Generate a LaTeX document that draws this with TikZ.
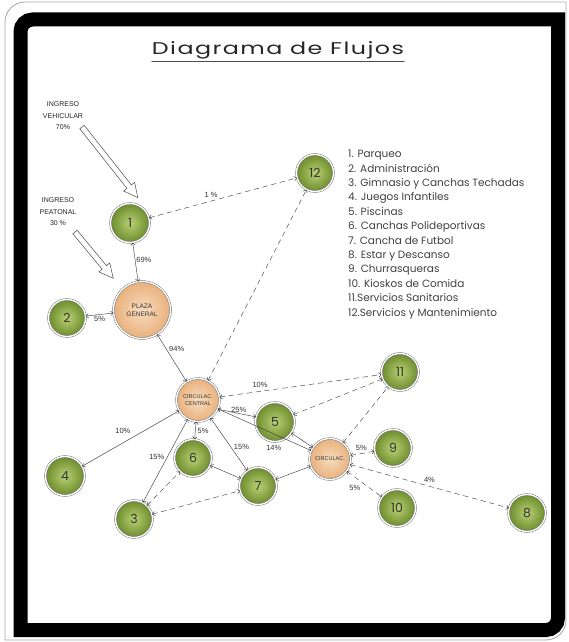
\documentclass[tikz,border=0pt]{standalone}
\usepackage{fontspec}
\setmainfont{Poppins}
\newfontfamily\labelfont{Liberation Sans}
\usetikzlibrary{arrows.meta}
\definecolor{verdeC}{HTML}{B9D074}
\definecolor{verdeO}{HTML}{6C8C2C}
\definecolor{naranjaC}{HTML}{F8DCBE}
\definecolor{naranjaO}{HTML}{E8B07C}

\begin{document}
\begin{tikzpicture}[x=1pt,y=-1pt,>={Straight Barb[length=2.5pt,width=4.5pt]},line cap=round,
  zona/.style={circle,draw=black!60,double=white,double distance=1.4pt,line width=0.45pt,
    inner sep=0pt,minimum size=37pt,inner color=verdeC,outer color=verdeO,
    text=black!80,font=\fontsize{12.5}{12.5}\selectfont},
  acceso/.style={zona,inner color=naranjaC,outer color=naranjaO,
    font=\labelfont\fontsize{5.5}{6.5}\selectfont,align=center},
  flujo/.style={<->,draw=black!75,line width=0.45pt},
  libre/.style={flujo,dash pattern=on 5pt off 4pt},
  pct/.style={font=\labelfont\fontsize{7.5}{8}\selectfont,text=black!80,inner sep=1pt},
  ingreso/.style={font=\labelfont\fontsize{7}{11.5}\selectfont,text=black!85,align=center}]
\useasboundingbox (0,0) rectangle (568,642);
% marco
\draw[gray!70,line width=0.8pt] (5,640) -- (5,22) arc[start angle=180,end angle=270,radius=20]
  -- (566,2) -- (566,620) arc[start angle=0,end angle=90,radius=20] -- cycle;
\draw[line width=14pt] (20.5,630) -- (20.5,31.5) arc[start angle=180,end angle=270,radius=12]
  -- (558,19.5) -- (558,618) arc[start angle=0,end angle=90,radius=12] -- cycle;
% titulo
\node[font=\fontsize{17}{17}\selectfont,text=black!85,inner sep=0pt] (titulo) at (278,50)
  {\scalebox{1.4}[1]{\addfontfeature{LetterSpace=6}Diagrama de Flujos}};
\draw[black!70,line width=0.6pt] ([yshift=-2.5pt]titulo.south west) -- ([yshift=-2.5pt]titulo.south east);
% leyenda
\node[anchor=north west,align=left,inner sep=0pt,text=black!75,
  font=\fontsize{10.5}{14.4}\selectfont] (leyenda) at (348,150) {1. Parqueo\\
2. Administración\\
3. Gimnasio y Canchas Techadas\\
4. Juegos Infantiles\\
5. Piscinas\\
6. Canchas Polideportivas\\
7. Cancha de Futbol\\
8. Estar y Descanso\\
9. Churrasqueras\\
10. Kioskos de Comida\\
11.Servicios Sanitarios\\
12.Servicios y Mantenimiento};
% ingresos
\node[ingreso] (vehicular) at (63,116) {INGRESO\\VEHICULAR\\70\%};
\node[ingreso] (peatonal) at (58,212) {INGRESO\\PEATONAL\\30 \%};
\begin{scope}[shift={(82,127)},rotate=-51.7]
\draw[black!70,line width=0.5pt,fill=white] (0,-2.8) -- (76,-2.8) -- (76,-7) -- (90,0) -- (76,7) -- (76,2.8) -- (0,2.8) -- cycle;
\end{scope}
\begin{scope}[shift={(75,232)},rotate=-50.4]
\draw[black!70,line width=0.5pt,fill=white] (0,-2.8) -- (46,-2.8) -- (46,-7) -- (60,0) -- (46,7) -- (46,2.8) -- (0,2.8) -- cycle;
\end{scope}
% zonas
\node[zona,minimum size=39pt] (n1) at (130,223) {1};
\node[zona] (n2) at (67,318) {2};
\node[zona] (n3) at (134,519) {3};
\node[zona,minimum size=39pt] (n4) at (65,476) {4};
\node[zona,minimum size=39pt] (n5) at (275,422) {5};
\node[zona] (n6) at (193,458) {6};
\node[zona] (n7) at (258,486) {7};
\node[zona] (n8) at (527,513) {8};
\node[zona] (n9) at (393,448) {9};
\node[zona] (n10) at (397,508) {10};
\node[zona] (n11) at (400,372) {11};
\node[zona] (n12) at (315,173) {12};
\node[acceso,minimum size=57pt,font=\labelfont\fontsize{6.5}{8}\selectfont] (plaza) at (142,310) {PLAZA\\GENERAL};
\node[acceso,minimum size=43pt] (central) at (198,400) {CIRCULAC.\\CENTRAL};
\node[acceso,minimum size=41pt] (circ) at (330,459) {CIRCULAC.};
% flujos
\draw[flujo] (n1) -- node[pct,right,pos=0.45]{69\%} (plaza);
\draw[flujo] (n2) -- node[pct,below=1pt,pos=0.5]{5\%} (plaza);
\draw[libre] (n1) -- node[pct,above=2pt,pos=0.42]{1 \%} (n12);
\draw[flujo] (plaza) -- node[pct,right=2pt,pos=0.3]{94\%} (central);
\draw[libre] (central) -- (n12);
\draw[libre] (central) -- node[pct,above=3pt,pos=0.25]{10\%} (n11);
\draw[libre] (n5) -- (n11);
\draw[flujo] (central.-25) -- node[pct,above,pos=0.55]{25\%} (n5.165);
\draw[flujo] (central) -- node[pct,right=1pt,pos=0.5]{5\%} (n6);
\draw[flujo] (central) -- node[pct,right=2pt,pos=0.55]{15\%} (n7);
\draw[flujo] (central) -- node[pct,below=10pt,pos=0.6]{14\%} (circ);
\draw[flujo] (n4) -- node[pct,above=8pt,pos=0.42]{10\%} (central);
\draw[flujo] (n3) -- node[pct,left=2pt,pos=0.55]{15\%} (central);
\draw[libre] (n3) -- (n6);
\draw[libre] (n3) -- (n7);
\draw[flujo] (n6) -- (n7);
\draw[flujo] (n7) -- (circ);
\draw[flujo] (n5) -- (circ);
\draw[libre] (circ) -- (n11);
\draw[libre] (circ) -- node[pct,above=2pt,pos=0.45]{5\%} (n9);
\draw[libre] (circ) -- node[pct,below left=1pt,pos=0.45]{5\%} (n10);
\draw[libre] (circ) -- node[pct,above=3pt,pos=0.5]{4\%} (n8);
\end{tikzpicture}
\end{document}
